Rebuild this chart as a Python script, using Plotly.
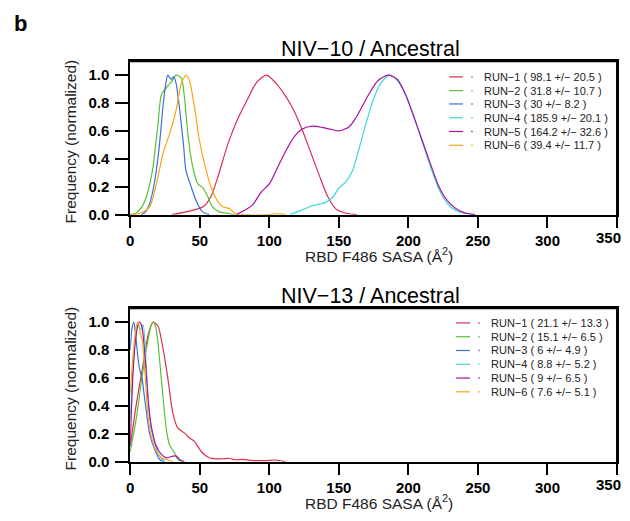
import plotly.graph_objects as go

# nomes e cores das corridas
runs = ["RUN−1", "RUN−2", "RUN−3", "RUN−4", "RUN−5", "RUN−6"]
colors = ["#D9304F", "#55C236", "#3A70E0", "#3CDADA", "#A8119E", "#F5A81B"]

# estatisticas da legenda (media +/- desvio)
n10_means = [98.1, 31.8, 30, 185.9, 164.2, 39.4]
n10_sds = [20.5, 10.7, 8.2, 20.1, 32.6, 11.7]
n13_means = [21.1, 15.1, 6, 8.8, 9, 7.6]
n13_sds = [13.3, 6.5, 4.9, 5.2, 6.5, 5.1]

# NIV-10 / Ancestral: curvas de densidade
n10_run1_x = [30, 40, 48, 53, 58, 63, 70, 77, 84, 91, 98, 104, 111, 118, 124, 130, 136, 142, 148, 155, 163]
n10_run1_y = [0, 0.02, 0.04, 0.06, 0.13, 0.27, 0.5, 0.68, 0.82, 0.95, 1.0, 0.95, 0.86, 0.74, 0.6, 0.44, 0.28, 0.13, 0.04, 0.01, 0]
n10_run2_x = [0, 4, 8, 11.7, 14, 16.4, 18, 20, 22.4, 26, 29.5, 33, 36.7, 39, 41.4, 45, 48.6, 52, 55.7, 59, 64, 70, 75]
n10_run2_y = [0, 0.01, 0.05, 0.13, 0.22, 0.34, 0.48, 0.65, 0.86, 0.91, 0.95, 1.0, 0.98, 0.84, 0.58, 0.34, 0.22, 0.195, 0.13, 0.057, 0.02, 0.01, 0]
n10_run3_x = [8, 11, 14, 16.5, 18.8, 21, 22.4, 24, 25.5, 27, 29.5, 31.2, 33, 35, 36.7, 38.5, 40, 43.8, 47.4, 52, 57]
n10_run3_y = [0, 0.02, 0.08, 0.18, 0.32, 0.5, 0.65, 0.82, 0.93, 1.0, 0.97, 0.99, 0.94, 0.8, 0.65, 0.48, 0.32, 0.2, 0.1, 0.02, 0]
n10_run4_x = [115, 120, 125, 131, 136, 141, 146, 150, 155, 160, 165, 170, 175, 180, 186.5, 192, 198, 204, 210, 216, 222, 228, 234, 240, 248]
n10_run4_y = [0, 0.02, 0.04, 0.064, 0.075, 0.09, 0.13, 0.19, 0.235, 0.32, 0.49, 0.67, 0.83, 0.94, 1.0, 0.96, 0.86, 0.7, 0.52, 0.34, 0.18, 0.08, 0.03, 0.01, 0]
n10_run5_x = [76, 82, 88, 94, 100, 106, 112, 118, 124, 131, 138, 145, 150, 157, 162, 167, 172, 178, 185.5, 192, 198, 204, 210, 216, 222, 228, 234, 240, 248]
n10_run5_y = [0, 0.03, 0.07, 0.16, 0.22, 0.34, 0.46, 0.56, 0.615, 0.634, 0.625, 0.61, 0.6, 0.627, 0.69, 0.78, 0.87, 0.96, 1.0, 0.97, 0.86, 0.7, 0.53, 0.36, 0.2, 0.1, 0.045, 0.015, 0]
n10_run6_x = [0, 7, 14, 18.8, 23.6, 28.3, 33, 36.7, 40.2, 42.6, 46.2, 49.8, 53.3, 58, 64, 67.6, 71, 76, 81, 100, 104, 108, 112]
n10_run6_y = [0, 0.01, 0.057, 0.22, 0.44, 0.58, 0.75, 0.94, 1.0, 0.96, 0.77, 0.53, 0.37, 0.2, 0.08, 0.052, 0.045, 0.005, 0, 0, 0.006, 0.006, 0]

# NIV-13 / Ancestral
n13_run1_x = [0, 4.5, 9.3, 12.9, 16.4, 20, 23.6, 27, 30.7, 34.3, 39, 42.6, 46.2, 50.9, 56.8, 62, 66.4, 71, 76, 80.7, 90, 97, 104.5, 111.7]
n13_run1_y = [0.11, 0.42, 0.7, 0.91, 1.0, 0.97, 0.81, 0.6, 0.345, 0.24, 0.205, 0.17, 0.146, 0.075, 0.028, 0.02, 0.021, 0.023, 0.014, 0.016, 0.008, 0.008, 0.012, 0]
n13_run2_x = [0, 4.5, 8.1, 11.7, 15.2, 16.9, 18.8, 21.2, 23.6, 26, 28.3, 31.9, 34.3, 38]
n13_run2_y = [0.07, 0.32, 0.58, 0.81, 0.98, 1.0, 0.94, 0.72, 0.46, 0.23, 0.12, 0.063, 0.016, 0]
n13_run3_x = [0, 1.2, 2.6, 4, 5.5, 7, 8.5, 10, 12, 14, 17.6, 21.2, 24.8]
n13_run3_y = [0.8, 0.95, 1.0, 0.9, 0.75, 0.65, 0.6, 0.48, 0.33, 0.2, 0.087, 0.016, 0]
n13_run4_x = [0, 1.5, 3.3, 5.7, 7, 8.1, 9.3, 11.7, 14, 17.6, 21.2, 24.8]
n13_run4_y = [0.3, 0.6, 0.84, 0.99, 0.95, 0.96, 0.98, 0.65, 0.32, 0.13, 0.04, 0]
n13_run5_x = [0, 2.1, 4.5, 6.4, 8.1, 10.5, 12.9, 15.2, 18.8, 22.4, 26, 30.7, 33, 35.5, 39]
n13_run5_y = [0.12, 0.65, 0.93, 1.0, 0.98, 0.77, 0.44, 0.25, 0.11, 0.052, 0.028, 0.04, 0.04, 0.016, 0]
n13_run6_x = [0, 2.1, 4.5, 5.7, 7.4, 8.8, 10.5, 12.9, 15.2, 18.8, 22.4, 26, 30.7]
n13_run6_y = [0.49, 0.77, 0.98, 1.0, 0.91, 0.86, 0.65, 0.32, 0.18, 0.075, 0.028, 0.016, 0]

x_ticks = [0, 50, 100, 150, 200, 250, 300, 350]
x_ticktext = ["0", "50", "100", "150", "200", "250", "300", ""]  # "350" vai como anotacao na borda
y_ticks = [0, 0.2, 0.4, 0.6, 0.8, 1.0]

# a pagina tem margem de 8px no body; a figura encolhe para caber na janela
OFF = 8
W, H = 630 - 2 * OFF, 521 - 2 * OFF
FONT = "Liberation Sans, Arial, Helvetica, sans-serif"


def px(x):
    return (x - OFF) / W


def py(y):
    return 1 - (y - OFF) / H


def note(text, x, y, size, xanchor="center", color="#222222", angle=0):
    return dict(text=text, x=px(x), y=py(y), xref="paper", yref="paper",
                xanchor=xanchor, yanchor="middle", showarrow=False, textangle=angle,
                font=dict(family=FONT, size=size, color=color))


def seg(x0, y0, x1, y1, color="black", width=1.6):
    return dict(type="line", xref="paper", yref="paper",
                x0=px(x0), x1=px(x1), y0=py(y0), y1=py(y1),
                line=dict(color=color, width=width))


def bar(x0, y0, x1, y1):
    # retangulo preenchido fino, usado como borda da caixa
    return dict(type="rect", xref="paper", yref="paper", layer="above",
                x0=px(x0), x1=px(x1), y0=py(y1), y1=py(y0),
                fillcolor="black", line=dict(width=0))


panels = [
    {"title": "NIV−10 / Ancestral", "top": 62, "bottom": 218,
     "xs": [n10_run1_x, n10_run2_x, n10_run3_x, n10_run4_x, n10_run5_x, n10_run6_x],
     "ys": [n10_run1_y, n10_run2_y, n10_run3_y, n10_run4_y, n10_run5_y, n10_run6_y],
     "means": n10_means, "sds": n10_sds,
     "leg_y": [78, 92, 105.5, 119.5, 133.5, 147.5], "leg_x": 448},
    {"title": "NIV−13 / Ancestral", "top": 313, "bottom": 469,
     "xs": [n13_run1_x, n13_run2_x, n13_run3_x, n13_run4_x, n13_run5_x, n13_run6_x],
     "ys": [n13_run1_y, n13_run2_y, n13_run3_y, n13_run4_y, n13_run5_y, n13_run6_y],
     "means": n13_means, "sds": n13_sds,
     "leg_y": [328, 342, 356, 370, 384, 398], "leg_x": 455},
]

fig = go.Figure()
annotations = []
shapes = []
left, right = 127, 617

for i, p in enumerate(panels):
    ax = "" if i == 0 else str(i + 1)
    for k in range(len(runs)):
        fig.add_trace(go.Scatter(
            x=p["xs"][k], y=p["ys"][k], mode="lines",
            line=dict(color=colors[k], width=1.2, shape="spline", smoothing=0.7),
            xaxis="x" + ax, yaxis="y" + ax, showlegend=False, hoverinfo="skip"))

    axis_common = dict(showline=True, linecolor="black", linewidth=1.8, mirror=True,
                       showgrid=False, zeroline=False, ticks="outside",
                       tickcolor="black", tickwidth=1.6,
                       tickfont=dict(family=FONT, size=15, color="black", weight="bold"))
    fig.update_layout(**{
        "xaxis" + ax: dict(axis_common, domain=[px(left), px(right)], range=[0, 350],
                           tickvals=x_ticks, ticktext=x_ticktext, ticklen=11, anchor="y" + ax),
        "yaxis" + ax: dict(axis_common, domain=[py(p["bottom"]), py(p["top"])], range=[0, 1.1],
                           tickvals=y_ticks, tickformat=".1f", ticklen=13,
                           ticklabelstandoff=3, anchor="x" + ax),
    })

    # caixa em volta do painel: lados de cima e da direita como faixas preenchidas
    t, b = p["top"], p["bottom"]
    shapes.append(bar(left - 1, t - 1, right + 1, t + 1))
    shapes.append(bar(right - 1, t - 1, right + 1, b + 1))

    # ultimo rotulo do eixo x, encostado na borda para nao sair da pagina
    annotations.append(dict(text="<b>350</b>", x=1.0, y=py(b + 23.5), xref="paper", yref="paper",
                            xanchor="right", yanchor="middle", showarrow=False, borderpad=0,
                            font=dict(family=FONT, size=15, color="black")))

    # titulos
    annotations.append(note(p["title"], (left + right) / 2 - 3, t - 12, 21.5, color="black"))
    annotations.append(note("RBD F486 SASA (Å<sup>2</sup>)", (left + right) / 2 + 5, b + 41, 15.5))
    annotations.append(note("Frequency (normalized)", 67, (t + b) / 2 + 4, 15.5, angle=-90))

    # legenda manual
    lx = p["leg_x"]
    for k in range(len(runs)):
        yy = p["leg_y"][k]
        shapes.append(seg(lx, yy, lx + 14, yy, colors[k], 1.2))
        shapes.append(seg(lx + 22.3, yy, lx + 23.7, yy, colors[k], 1.4))
        label = f"{runs[k]} ( {p['means'][k]:g} +/− {p['sds'][k]:g} )"
        annotations.append(note(label, lx + 33, yy, 11, xanchor="left"))

annotations.append(note("<b>b</b>", 16.5, 24, 22, color="black"))

fig.update_layout(width=W, height=H, margin=dict(l=0, r=0, t=0, b=0),
                  plot_bgcolor="white", paper_bgcolor="white",
                  annotations=annotations, shapes=shapes)

fig.write_html("out.html")
